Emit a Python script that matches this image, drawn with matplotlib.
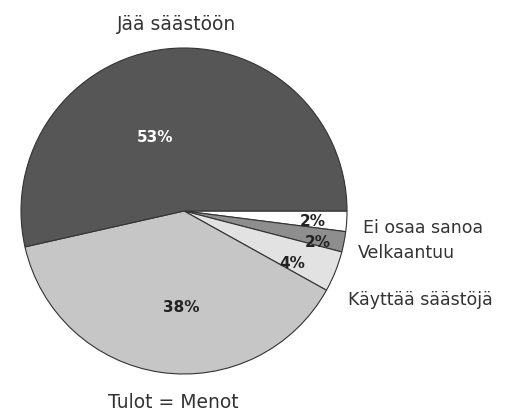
import matplotlib.pyplot as plt

# slice data, clockwise from 3 o'clock
labels = ['Ei osaa sanoa', 'Velkaantuu', 'Käyttää säästöjä', 'Tulot = Menot', 'Jää säästöön']
values = [2, 2, 4, 38, 53]
pct_labels = ['2%', '2%', '4%', '38%', '53%']
colors = ['#ffffff', '#8e8e8e', '#e2e2e2', '#c6c6c6', '#565656']

plt.rcParams['font.family'] = ['DejaVu Sans Condensed', 'DejaVu Sans']

W, H = 505, 414
fig = plt.figure(figsize=(W / 100, H / 100), dpi=100)
ax = fig.add_axes([0, 0, 1, 1])

cx, cy, r = 184, H - 212, 163
wedges, _ = ax.pie(values, colors=colors, startangle=0, counterclock=False,
                   center=(cx, cy), radius=r, frame=True,
                   wedgeprops=dict(edgecolor='#333333', linewidth=0.8))

ax.set_xlim(0, W)
ax.set_ylim(0, H)
ax.set_aspect('equal')
ax.axis('off')

# percentage labels inside the slices
pct_pos = [(313, 222), (318, 243), (292, 263), (181, 307), (155, 137)]
pct_col = ['#222222', '#222222', '#222222', '#222222', '#ffffff']
for (x, y), t, c in zip(pct_pos, pct_labels, pct_col):
    ax.text(x, H - y, t, ha='center', va='center', fontsize=11,
            fontweight='bold', color=c)

# category labels outside
ax.text(177, H - 24, labels[4], ha='center', va='center', fontsize=13.5, color='#333333')
ax.text(173, H - 403, labels[3], ha='center', va='center', fontsize=13.5, color='#333333')
ax.text(363, H - 228, labels[0], ha='left', va='center', fontsize=12.5, color='#333333')
ax.text(358, H - 253, labels[1], ha='left', va='center', fontsize=12.5, color='#333333')
ax.text(348, H - 300, labels[2], ha='left', va='center', fontsize=12.5, color='#333333')

fig.savefig('out.png', dpi=100)
